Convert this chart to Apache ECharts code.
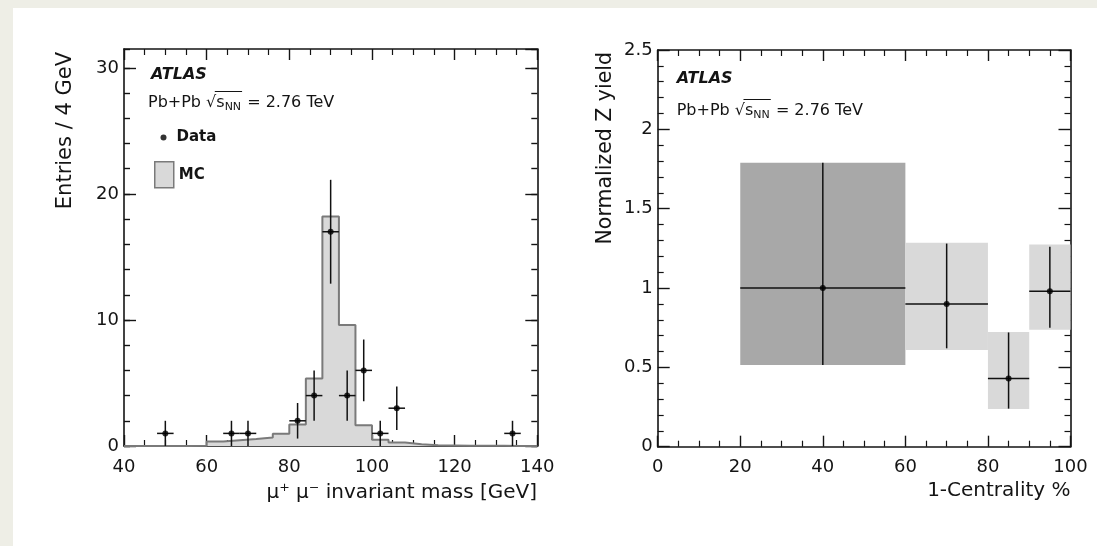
<!DOCTYPE html>
<html><head><meta charset="utf-8">
<script src="https://cdn.jsdelivr.net/npm/echarts@6/dist/echarts.min.js"></script>
<style>html,body{margin:0;padding:0;background:#eeeee6;}#c{width:1097px;height:546px;}</style>
</head><body><div id="c"></div>
<script>
// ---------- Left panel: mu+ mu- invariant mass ----------
const massBinEdges = [40,44,48,52,56,60,64,68,72,76,80,84,88,92,96,100,104,108,112,116,120,124,128,132,136,140];
const mcCounts     = [0,0,0,0,0.02,0.35,0.45,0.55,0.68,0.97,1.7,5.35,18.2,9.6,1.65,0.5,0.27,0.13,0.06,0.04,0.02,0.01,0.01,0,0];
const dataMass   = [50,66,70,82,86,90,94,98,102,106,134];
const dataCounts = [1,1,1,2,4,17,4,6,1,3,1];
const dataErr    = [1,1,1,1.41,2,4.12,2,2.45,1,1.73,1];
const massHalfBin = 2;
const massTicks = [40,60,80,100,120,140];
const countTicks = [0,10,20,30];

// ---------- Right panel: normalized Z yield vs centrality ----------
const centLo  = [20,60,80,90];
const centHi  = [60,80,90,100];
const centMid = [40,70,85,95];
const zYield  = [1.0,0.90,0.43,0.98];
const statLo  = [0.515,0.62,0.24,0.75];
const statHi  = [1.79,1.28,0.72,1.26];
const sysLo   = [0.515,0.61,0.237,0.737];
const sysHi   = [1.79,1.285,0.723,1.274];
const centTicks = [0,20,40,60,80,100];
const yieldTicks = [0,0.5,1,1.5,2,2.5];

const FONT = '"DejaVu Sans"';
const INK = '#141414';

function measure(t, f){const c=document.createElement('canvas').getContext('2d');c.font=f;return c.measureText(t).width;}

function xAxisCfg(grid, pos, min, max, interval, split, labels){
  return {type:'value', gridIndex:grid, position:pos, min:min, max:max, interval:interval,
    axisLine:{show:true,onZero:false,lineStyle:{color:INK,width:1.6}},
    axisTick:{show:true,inside:true,length:11,lineStyle:{color:INK,width:1.4}},
    minorTick:{show:true,splitNumber:split,length:6,lineStyle:{color:INK,width:1.2}},
    splitLine:{show:false}, minorSplitLine:{show:false},
    axisLabel:{show:labels,margin:12,fontFamily:FONT,fontSize:18,color:INK}};
}
function yAxisCfg(grid, pos, min, max, interval, len, labels, line, minorSplit, opts){
  return {type:'value', gridIndex:grid, position:pos, min:min, max:max, interval:interval,
    axisLine:{show:line,onZero:false,lineStyle:{color:INK,width:1.6}},
    axisTick:{show:true,inside:true,length:len,lineStyle:{color:INK,width:1.4}},
    splitLine:{show:false},
    minorTick:{show:!!minorSplit,splitNumber:minorSplit||5,length:6,lineStyle:{color:INK,width:1.2}},
    axisLabel:{show:labels,margin:5,fontFamily:FONT,fontSize:18,color:INK,showMaxLabel:!(opts&&opts.hideMax)}};
}

const mcStep = massBinEdges.map((e,i)=>[e, i<mcCounts.length?mcCounts[i]:mcCounts[mcCounts.length-1]]);

const option = {
  backgroundColor:'#eeeee6',
  animation:false,
  grid:[
    {left:124, top:49, right:1097-537.3, bottom:546-446, containLabel:false},
    {left:657.7, top:50, right:1097-1070.5, bottom:546-446.7, containLabel:false}
  ],
  xAxis:[
    xAxisCfg(0,'bottom',40,140,20,4,true),
    xAxisCfg(0,'top',40,140,20,4,false),
    xAxisCfg(1,'bottom',0,100,20,4,true),
    xAxisCfg(1,'top',0,100,20,4,false)
  ],
  yAxis:[
    yAxisCfg(0,'left',0,31.5,10,12,true,true,0,{hideMax:true}),
    yAxisCfg(0,'left',0,31.5,2,6,false,false,0),
    yAxisCfg(0,'right',0,31.5,10,12,false,true,0),
    yAxisCfg(0,'right',0,31.5,2,6,false,false,0),
    yAxisCfg(1,'left',0,2.5,0.5,12,true,true,5),
    yAxisCfg(1,'right',0,2.5,0.5,12,false,true,5)
  ],
  legend:[
    {data:[{name:'Data',icon:'circle'}], left:160.5, top:130, itemWidth:6, itemHeight:6, itemGap:0, padding:0, selectedMode:false,
     textStyle:{fontFamily:FONT,fontWeight:'bold',fontSize:15,color:INK,padding:[0,0,0,5]}},
    {data:[{name:'MC',icon:'rect',itemStyle:{color:'#d9d9d9',borderColor:'#7a7a7a',borderWidth:1.5}}], left:154, top:161, itemWidth:19, itemHeight:26, padding:0, selectedMode:false,
     textStyle:{fontFamily:FONT,fontWeight:'bold',fontSize:15,color:INK}}
  ],
  series:[
    {name:'MC', type:'line', xAxisIndex:0, yAxisIndex:0, step:'end', symbol:'none', data:mcStep,
     lineStyle:{color:'#7a7a7a',width:2}, itemStyle:{color:'#d9d9d9'}, areaStyle:{color:'#d9d9d9',opacity:1}, z:1},
    {name:'DataErr', type:'custom', xAxisIndex:0, yAxisIndex:0, z:3,
     data:dataMass.map((m,i)=>[m,dataCounts[i],dataErr[i]]),
     renderItem:function(p,api){
       const x=api.value(0),y=api.value(1),e=api.value(2);
       const l=api.coord([x-massHalfBin,y]),r=api.coord([x+massHalfBin,y]);
       const t=api.coord([x,y+e]),b=api.coord([x,Math.max(0,y-e)]);
       const st={stroke:'#111',lineWidth:1.5};
       return {type:'group',children:[
         {type:'line',shape:{x1:l[0],y1:l[1],x2:r[0],y2:r[1]},style:st},
         {type:'line',shape:{x1:t[0],y1:t[1],x2:b[0],y2:b[1]},style:st}]};
     }},
    {name:'Data', type:'scatter', xAxisIndex:0, yAxisIndex:0, symbol:'circle', symbolSize:6, z:4,
     itemStyle:{color:'#000'}, data:dataMass.map((m,i)=>[m,dataCounts[i]])},

    {name:'Sys', type:'custom', xAxisIndex:2, yAxisIndex:4, z:1,
     data:centLo.map((lo,i)=>[lo,centHi[i],sysLo[i],sysHi[i],i]),
     renderItem:function(p,api){
       const a=api.coord([api.value(0),api.value(3)]), b=api.coord([api.value(1),api.value(2)]);
       return {type:'rect',shape:{x:a[0],y:a[1],width:b[0]-a[0],height:b[1]-a[1]},
         style:{fill: api.value(4)===0?'#a8a8a8':'#d9d9d9'}};
     }},
    {name:'Stat', type:'custom', xAxisIndex:2, yAxisIndex:4, z:3,
     data:centMid.map((m,i)=>[m,zYield[i],centLo[i],centHi[i],statLo[i],statHi[i]]),
     renderItem:function(p,api){
       const x=api.value(0),y=api.value(1);
       const l=api.coord([api.value(2),y]),r=api.coord([api.value(3),y]);
       const t=api.coord([x,api.value(5)]),b=api.coord([x,api.value(4)]);
       const st={stroke:'#111',lineWidth:1.5};
       return {type:'group',children:[
         {type:'line',shape:{x1:l[0],y1:l[1],x2:r[0],y2:r[1]},style:st},
         {type:'line',shape:{x1:t[0],y1:t[1],x2:b[0],y2:b[1]},style:st}]};
     }},
    {name:'Yield', type:'scatter', xAxisIndex:2, yAxisIndex:4, symbol:'circle', symbolSize:6, z:4,
     itemStyle:{color:'#000'}, data:centMid.map((m,i)=>[m,zYield[i]])}
  ],
  graphic:[]
};

// white panel
option.graphic.push({type:'rect',left:13,top:8,shape:{width:1097-13,height:546-8},style:{fill:'#fff'},z:-10,silent:true});

function energyLabel(x0, yc){
  const f16='16px '+FONT, f11='11px '+FONT;
  const w1=measure('Pb+Pb \u221A',f16), w2=measure('Pb+Pb \u221As',f16), wN=measure('NN',f11);
  return [
    {type:'text',x:x0,y:yc,style:{text:'Pb+Pb \u221As',font:f16,fill:INK,textVerticalAlign:'middle'}},
    {type:'text',x:x0+w2,y:yc+4,style:{text:'NN',font:f11,fill:INK,textVerticalAlign:'middle'}},
    {type:'text',x:x0+w2+wN+1,y:yc,style:{text:' = 2.76 TeV',font:f16,fill:INK,textVerticalAlign:'middle'}},
    {type:'line',shape:{x1:x0+w1-1.5,y1:yc-11.5,x2:x0+w2+wN+1,y2:yc-11.5},style:{stroke:INK,lineWidth:1}}
  ];
}
option.graphic.push(
  {type:'text',x:151,y:75,style:{text:'ATLAS',font:'italic bold 16px '+FONT,fill:INK,textVerticalAlign:'middle'}},
  ...energyLabel(148,103),
  {type:'text',x:676.7,y:79,style:{text:'ATLAS',font:'italic bold 16px '+FONT,fill:INK,textVerticalAlign:'middle'}},
  ...energyLabel(676.7,111),
  {type:'text',x:66,y:52,rotation:Math.PI/2,style:{text:'Entries / 4 GeV',font:'21px '+FONT,fill:INK,textAlign:'right',textVerticalAlign:'middle'}},
  {type:'text',x:606,y:52,rotation:Math.PI/2,style:{text:'Normalized Z yield',font:'20.5px '+FONT,fill:INK,textAlign:'right',textVerticalAlign:'middle'}},
  {type:'text',x:537,y:493,style:{text:'\u03BC\u207A \u03BC\u207B invariant mass [GeV]',font:'20px '+FONT,fill:INK,textAlign:'right',textVerticalAlign:'middle'}},
  {type:'text',x:1070.5,y:491,style:{text:'1-Centrality %',font:'20px '+FONT,fill:INK,textAlign:'right',textVerticalAlign:'middle'}}
);

const chart = echarts.init(document.getElementById('c'));
chart.setOption(option);
</script></body></html>
